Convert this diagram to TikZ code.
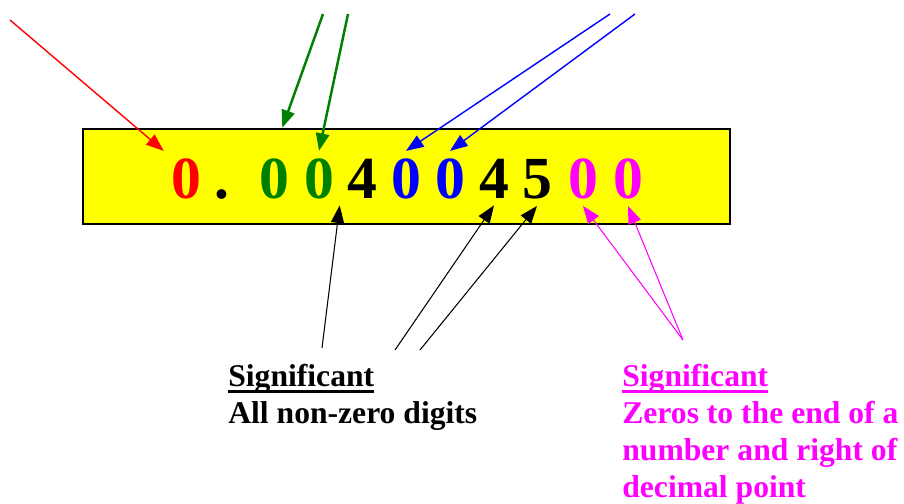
\documentclass[tikz,border=0pt]{standalone}
\usepackage{fontspec}
\setmainfont{Liberation Serif}
\usetikzlibrary{arrows.meta,positioning}
\definecolor{sigred}{RGB}{255,0,0}
\definecolor{siggreen}{RGB}{0,128,0}
\definecolor{sigblue}{RGB}{0,0,255}
\definecolor{sigpink}{RGB}{255,0,255}
\definecolor{sigyellow}{RGB}{255,255,0}
\newsavebox\ulbox
\newcommand{\heavyul}[1]{\sbox\ulbox{#1}\rlap{\vrule height -1.8pt depth 3.5pt width \wd\ulbox}\usebox\ulbox}

\begin{document}
\begin{tikzpicture}[
x=0.02cm, y=-0.02cm,
digit/.style={font=\fontsize{34}{40}\selectfont\bfseries, inner sep=4pt, anchor=base},
numbox/.style={draw=black, thick, fill=sigyellow},
note/.style={font=\fontsize{18}{21}\selectfont\bfseries, align=left, inner sep=0pt, anchor=north west},
arrow/.style={-{Triangle[length=10pt,width=7.5pt]}, line width=0.8pt}
]
\useasboundingbox (0,0) rectangle (904,504);
\draw[numbox] (83,129) rectangle (730,224);
\foreach \name/\x/\col/\d in {r1/186/sigred/0, pt/222/black/., g1/274/siggreen/0, g2/319/siggreen/0, f1/362/black/4, b1/406/sigblue/0, b2/450/sigblue/0, f2/494/black/4, f3/537/black/5, m1/583/sigpink/0, m2/628/sigpink/0}
  \node[digit, text=\col] (\name) at (\x,198) {\d};
\coordinate (redtop) at (10,20);
\coordinate (greentopa) at (323,14);
\coordinate (greentopb) at (348,14);
\coordinate (bluetopa) at (610,14);
\coordinate (bluetopb) at (635,14);
\coordinate (blackfoota) at (322,348);
\coordinate (blackfootb) at (395,350);
\coordinate (blackfootc) at (420,350);
\coordinate (pinkfoot) at (683,340);
\draw[arrow, sigred] (redtop) -- (r1.north west);
\draw[arrow, siggreen, line width=1.4pt, shorten >=14pt] (greentopa) -- (g1.north);
\draw[arrow, siggreen, line width=1.4pt] (greentopb) -- (g2.north);
\foreach \a/\b in {bluetopa/b1, bluetopb/b2}
  \draw[arrow, sigblue] (\a) -- (\b.north);
\foreach \a/\b in {blackfoota/f1.south west, blackfootb/f2.south, blackfootc/f3.south}
  \draw[arrow, line width=0.6pt] (\a) -- (\b);
\foreach \b in {m1,m2}
  \draw[arrow, sigpink, line width=0.6pt] (pinkfoot) -- (\b.south);
\node[note] (nonzero) at (228,364) {\heavyul{Significant}\\All non-zero digits};
\node[note, text=sigpink] (trailing) at (622,364) {\heavyul{Significant}\\Zeros to the end of a\\number and right of\\decimal point};
\end{tikzpicture}
\end{document}
